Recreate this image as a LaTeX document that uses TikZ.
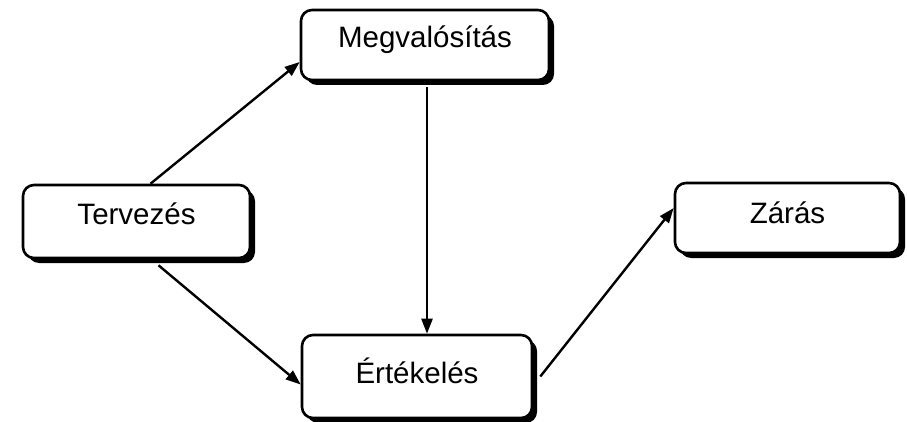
\documentclass[tikz,border=0pt]{standalone}
\usepackage{fontspec}
\setmainfont{Liberation Sans}
\usetikzlibrary{shadows,arrows.meta}
\begin{document}
\begin{tikzpicture}[x=1pt,y=-1pt,
  phase/.style={draw=black, line width=2.6pt, fill=white, rounded corners=11pt,
    drop shadow={shadow xshift=5pt, shadow yshift=-5pt, fill=black, opacity=1},
    font=\fontsize{29.5}{30}\selectfont, text height=22pt, inner sep=0pt},
  flow/.style={line width=2.4pt, -{Triangle[length=15pt,width=11pt]}}]
\useasboundingbox (0,0) rectangle (907,422);

% project phases
\node[phase, minimum width=248pt, minimum height=70pt, text depth=16pt] (M) at (425,45) {Megvalósítás};
\node[phase, minimum width=227pt, minimum height=73pt, text depth=15pt] (T) at (136.5,221.5) {Tervezés};
\node[phase, minimum width=230pt, minimum height=83pt, text depth=9pt] (E) at (417,376.5) {Értékelés};
\node[phase, minimum width=225pt, minimum height=70pt, text depth=12pt] (Z) at (787.5,218) {Zárás};

% transitions
\draw[flow] ([xshift=14pt]T.north) -- ([yshift=-17pt]M.west);
\draw[flow] ([xshift=22pt,yshift=-6pt]T.south) -- ([yshift=-8pt]E.west);
\draw[flow] ([xshift=2pt,yshift=-6pt]M.south) -- ([xshift=10pt]E.north);
\draw[flow] ([xshift=7pt]E.east) -- ([yshift=10pt]Z.west);
\end{tikzpicture}
\end{document}
